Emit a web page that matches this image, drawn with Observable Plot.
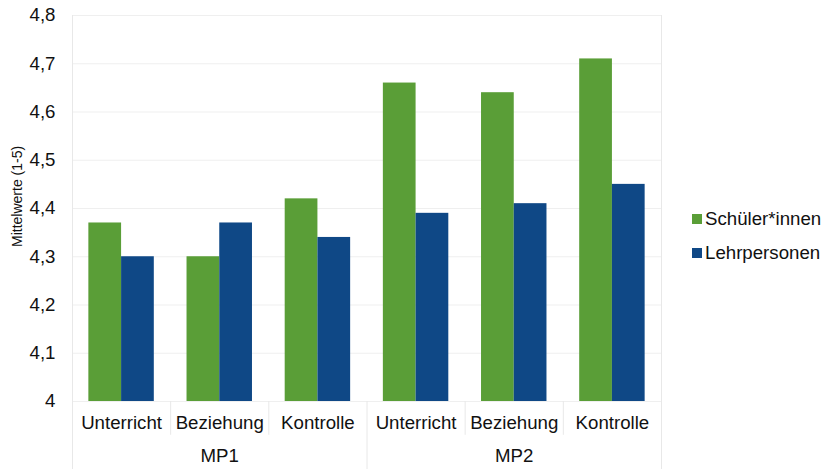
<!DOCTYPE html>
<html>
<head>
<meta charset="utf-8">
<script src="https://cdn.jsdelivr.net/npm/d3@7"></script>
<script src="https://cdn.jsdelivr.net/npm/@observablehq/plot@0.6"></script>
<style>
  html, body { margin: 0; padding: 0; background: #fff; }
  #wrap { position: relative; width: 825px; height: 469px; font-family: "Liberation Sans", Arial, sans-serif; }
  #legend { position: absolute; left: 692px; top: 202px; font-size: 18.67px; color: #111; line-height: 34px; }
  #legend .item { display: flex; align-items: center; white-space: nowrap; }
  #legend .sw { width: 10px; height: 10px; margin-right: 3px; display: inline-block; }
</style>
</head>
<body>
<div id="wrap"></div>
<script>
// ---- data ----
const groups = ["MP1", "MP1", "MP1", "MP2", "MP2", "MP2"];
const categories = ["Unterricht", "Beziehung", "Kontrolle", "Unterricht", "Beziehung", "Kontrolle"];
const schueler = [4.37, 4.30, 4.42, 4.66, 4.64, 4.71];
const lehrpersonen = [4.30, 4.37, 4.34, 4.39, 4.41, 4.45];
const seriesNames = ["Schüler*innen", "Lehrpersonen"];
const seriesColors = ["#5a9e37", "#0f4886"];
const yTicks = [4, 4.1, 4.2, 4.3, 4.4, 4.5, 4.6, 4.7, 4.8];
const yTickLabels = ["4", "4,1", "4,2", "4,3", "4,4", "4,5", "4,6", "4,7", "4,8"];
const yTitle = "Mittelwerte (1-5)";

// ---- derived tables ----
const yMin = 4, yMax = 4.8;
const bars = [];
categories.forEach((c, i) => {
  bars.push({i, series: seriesNames[0], value: schueler[i], x1: i + 1/6, x2: i + 0.5});
  bars.push({i, series: seriesNames[1], value: lehrpersonen[i], x1: i + 0.5, x2: i + 5/6});
});
const catLabels = categories.map((c, i) => ({x: i + 0.5, label: c}));
const groupNames = [...new Set(groups)];
const groupLabels = groupNames.map(g => {
  const idx = groups.map((d, i) => d === g ? i : -1).filter(i => i >= 0);
  return {x: (idx[0] + idx[idx.length - 1] + 1) / 2, label: g};
});
// separators: inner category boundaries (short), group boundaries and edges (long)
const boundaries = d3.range(0, categories.length + 1);
const isGroupEdge = b => b === 0 || b === categories.length || groups[b] !== groups[b - 1];
const shortSeps = boundaries.filter(b => !isGroupEdge(b));
const longSeps = boundaries.filter(b => isGroupEdge(b) && b !== 0 && b !== categories.length);
const edgeSeps = [0, categories.length];

const FS = 18.67;
const plot = Plot.plot({
  width: 825,
  height: 469,
  marginLeft: 72,
  marginRight: 164,
  marginTop: 15,
  marginBottom: 68,
  style: {fontFamily: "Liberation Sans, Arial, sans-serif", fontSize: FS + "px", color: "#111", background: "#fff"},
  x: {domain: [0, categories.length], axis: null},
  y: {domain: [yMin, yMax], axis: null},
  color: {domain: seriesNames, range: seriesColors},
  marks: [
    Plot.ruleY(yTicks, {y: d => d, stroke: "#efefef", strokeWidth: 1}),
    Plot.ruleX(shortSeps, {x: d => d, y1: yMin, y2: yMin - 0.07, stroke: "#e8e8e8"}),
    Plot.ruleX(longSeps, {x: d => d, y1: yMin, y2: yMin - 0.141, stroke: "#e8e8e8"}),
    Plot.ruleX(edgeSeps, {x: d => d, y1: yMax, y2: yMin - 0.141, stroke: "#e8e8e8"}),
    Plot.rect(bars, {x1: "x1", x2: "x2", y1: yMin, y2: "value", fill: "series"}),
    Plot.text(yTicks, {x: 0, y: d => d, text: (d, i) => yTickLabels[i], textAnchor: "end", dx: -17, fontSize: FS, fill: "#111"}),
    Plot.text(catLabels, {x: "x", y: yMin, text: "label", dy: 22, fontSize: FS, fill: "#111"}),
    Plot.text(groupLabels, {x: "x", y: yMin, text: "label", dy: 55, fontSize: FS, fill: "#111"}),
    Plot.text([yTitle], {x: 0, y: 4.425, text: d => d, rotate: -90, dx: -55, fontSize: 14, fill: "#111"})
  ]
});

const wrap = document.getElementById("wrap");
wrap.appendChild(plot);
const legend = document.createElement("div");
legend.id = "legend";
seriesNames.forEach((name, k) => {
  const item = document.createElement("div");
  item.className = "item";
  const sw = document.createElement("span");
  sw.className = "sw";
  sw.style.background = plot.scale("color").apply(name);
  item.appendChild(sw);
  item.appendChild(document.createTextNode(name));
  legend.appendChild(item);
});
wrap.appendChild(legend);
</script>
</body>
</html>
